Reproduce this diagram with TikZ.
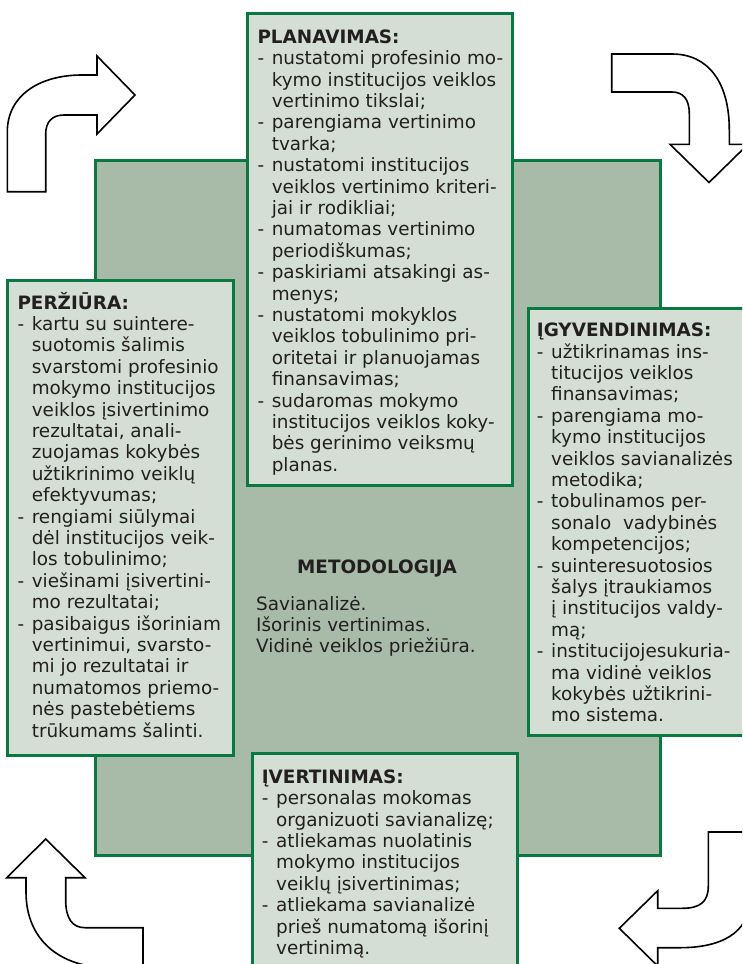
\documentclass[tikz,border=0pt]{standalone}
\usepackage{fontspec}
\setmainfont{DejaVu Sans}
\definecolor{bigfill}{RGB}{168,187,168}
\definecolor{boxfill}{RGB}{213,222,213}
\definecolor{edgegreen}{RGB}{10,120,65}
\definecolor{ink}{RGB}{35,31,32}
\newcommand{\myitem}{\makebox[14.3pt][l]{-}}
\newcommand{\mycont}{\hspace*{14.3pt}}
\begin{document}
\begin{tikzpicture}[x=1pt,y=-1pt,
  bigbox/.style={draw=edgegreen,line width=3pt,fill=bigfill,anchor=north west,inner sep=0pt,outer sep=0pt},
  panel/.style={draw=edgegreen,line width=3pt,fill=boxfill,anchor=north west,inner sep=0pt,outer sep=0pt},
  paneltext/.style={anchor=base west,inner sep=0pt,text=ink,font=\fontsize{18.4}{21.4}\selectfont},
  bentarrow/.style={draw=black,line width=1.6pt,fill=white,line join=miter}]
\useasboundingbox (0,0) rectangle (742,964);
\clip (0,0) rectangle (742,964);

% central square
\node[bigbox,minimum width=565pt,minimum height=695pt] (method) at (95,160) {};

% bent arrows
\draw[bentarrow] (7.3,191.7) -- (7.3,132) .. controls (7.3,95) and (40,75) .. (82,75)
  -- (97,75) -- (97,56) -- (135,95) -- (97,134) -- (97,115) -- (64,115)
  .. controls (52,115) and (45.7,122) .. (45.7,134) -- (45.7,191.7) -- cycle;
\draw[bentarrow] (611.7,54) -- (672,54) .. controls (708,54) and (729.3,82) .. (729.3,130)
  -- (729.3,144.3) -- (748,144.3) -- (709,182.5) -- (670,144.3) -- (689.3,144.3) -- (689.3,114)
  .. controls (689.3,99) and (683,92) .. (672,92) -- (611.7,92) -- cycle;
\draw[bentarrow] (26,877.7) -- (26,892) .. controls (26,940) and (60,967.7) .. (110,967.7)
  -- (143,967.7) -- (143,927.7) -- (85,927.7) .. controls (72,927.7) and (65.7,918) .. (65.7,900)
  -- (65.7,877.7) -- (85,877.7) -- (45.7,839) -- (6.7,877.7) -- cycle;
\draw[bentarrow] (708.3,832) -- (750,832) -- (750,898) .. controls (750,935) and (718,947.7) .. (680,947.7)
  -- (657.7,947.7) -- (657.7,966) -- (619.3,928.3) -- (657.7,890.7) -- (657.7,908.3) -- (682,908.3)
  .. controls (700,908.3) and (708.3,902) .. (708.3,886) -- cycle;

% panels
\node[panel,minimum width=265pt,minimum height=472pt] (plan) at (247,13) {};
\node[panel,minimum width=226pt,minimum height=475pt] (review) at (7,280) {};
\node[panel,minimum width=222pt,minimum height=427pt] (impl) at (528,308) {};
\node[panel,minimum width=265pt,minimum height=230pt] (eval) at (252,753) {};

% texts
\node[paneltext] (plantext) at (257.3,43.3) {\begin{tabular}[t]{@{}l@{}}
\textbf{PLANAVIMAS:}\\
\myitem nustatomi profesinio mo-\\
\mycont kymo institucijos veiklos\\
\mycont vertinimo tikslai;\\
\myitem parengiama vertinimo\\
\mycont tvarka;\\
\myitem nustatomi institucijos\\
\mycont veiklos vertinimo kriteri-\\
\mycont jai ir rodikliai;\\
\myitem numatomas vertinimo\\
\mycont periodiškumas;\\
\myitem paskiriami atsakingi as-\\
\mycont menys;\\
\myitem nustatomi mokyklos\\
\mycont veiklos tobulinimo pri-\\
\mycont oritetai ir planuojamas\\
\mycont finansavimas;\\
\myitem sudaromas mokymo\\
\mycont institucijos veiklos koky-\\
\mycont bės gerinimo veiksmų\\
\mycont planas.
\end{tabular}};

\node[paneltext] (reviewtext) at (17.3,309) {\begin{tabular}[t]{@{}l@{}}
\textbf{PERŽIŪRA:}\\
\myitem kartu su suintere-\\
\mycont suotomis šalimis\\
\mycont svarstomi profesinio\\
\mycont mokymo institucijos\\
\mycont veiklos įsivertinimo\\
\mycont rezultatai, anali-\\
\mycont zuojamas kokybės\\
\mycont užtikrinimo veiklų\\
\mycont efektyvumas;\\
\myitem rengiami siūlymai\\
\mycont dėl institucijos veik-\\
\mycont los tobulinimo;\\
\myitem viešinami įsivertini-\\
\mycont mo rezultatai;\\
\myitem pasibaigus išoriniam\\
\mycont vertinimui, svarsto-\\
\mycont mi jo rezultatai ir\\
\mycont numatomos priemo-\\
\mycont nės pastebėtiems\\
\mycont trūkumams šalinti.
\end{tabular}};

\node[paneltext] (impltext) at (536.7,336.7) {\begin{tabular}[t]{@{}l@{}}
\textbf{ĮGYVENDINIMAS:}\\
\myitem užtikrinamas ins-\\
\mycont titucijos veiklos\\
\mycont finansavimas;\\
\myitem parengiama mo-\\
\mycont kymo institucijos\\
\mycont veiklos savianalizės\\
\mycont metodika;\\
\myitem tobulinamos per-\\
\mycont sonalo\ \ vadybinės\\
\mycont kompetencijos;\\
\myitem suinteresuotosios\\
\mycont šalys įtraukiamos\\
\mycont į institucijos valdy-\\
\mycont mą;\\
\myitem institucijojesukuria-\\
\mycont ma vidinė veiklos\\
\mycont kokybės užtikrini-\\
\mycont mo sistema.
\end{tabular}};

\node[paneltext] (evaltext) at (261.7,783.3) {\begin{tabular}[t]{@{}l@{}}
\textbf{ĮVERTINIMAS:}\\
\myitem personalas mokomas\\
\mycont organizuoti savianalizę;\\
\myitem atliekamas nuolatinis\\
\mycont mokymo institucijos\\
\mycont veiklų įsivertinimas;\\
\myitem atliekama savianalizė\\
\mycont prieš numatomą išorinį\\
\mycont vertinimą.
\end{tabular}};

\node[paneltext,anchor=base] (methodtitle) at (377,573.3) {\textbf{METODOLOGIJA}};
\node[paneltext] (methodtext) at (256,610) {\begin{tabular}[t]{@{}l@{}}
Savianalizė.\\
Išorinis vertinimas.\\
Vidinė veiklos priežiūra.
\end{tabular}};
\end{tikzpicture}
\end{document}
